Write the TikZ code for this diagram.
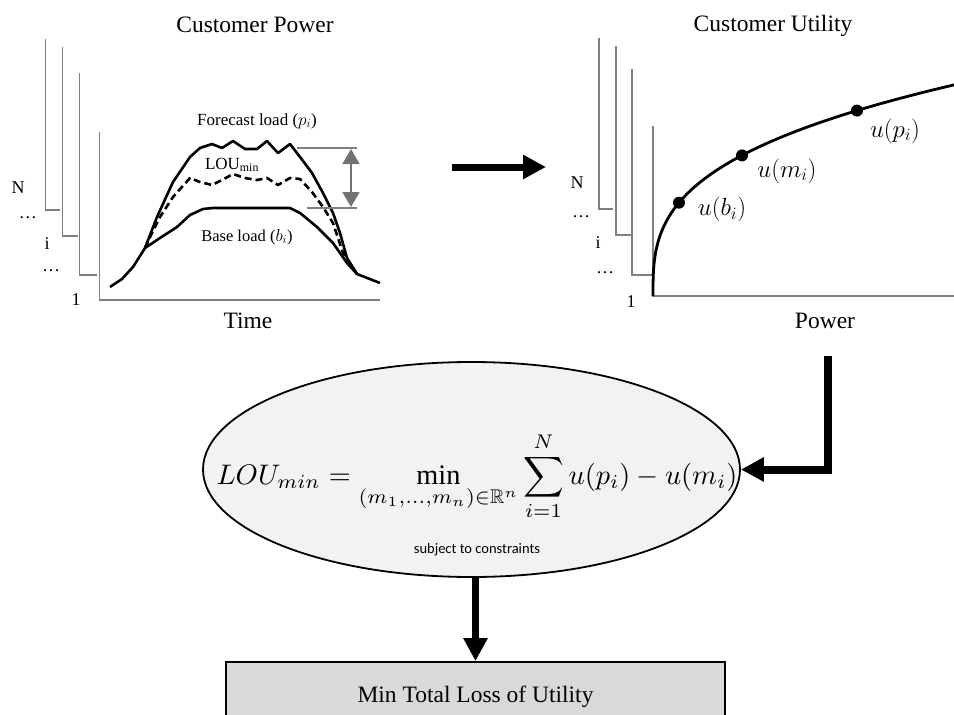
\documentclass[tikz,border=0pt]{standalone}
\usepackage{fontspec}
\setmainfont{Liberation Serif}
\newfontfamily\calibrifont{Carlito}
\usepackage{amssymb}
\usepackage{graphicx}
\usetikzlibrary{arrows.meta,shapes.geometric}
\definecolor{axisgray}{HTML}{808080}
\definecolor{ellfill}{HTML}{F2F2F2}
\definecolor{boxfill}{HTML}{D9D9D9}
\definecolor{arrgray}{HTML}{767171}
\tikzset{
  axisline/.style={draw=axisgray, line width=1.2pt},
  loadcurve/.style={line width=2.6pt, line join=round},
  bigtxt/.style={font=\fontsize{23.5}{28}\selectfont, inner sep=0pt, anchor=base},
  idxtxt/.style={font=\fontsize{18}{22}\selectfont, inner sep=0pt, anchor=base},
  smalltxt/.style={font=\fontsize{17}{20}\selectfont, inner sep=0pt, anchor=base},
  utxt/.style={font=\fontsize{25.5}{30}\selectfont, inner sep=0pt},
  bigarrow/.style={line width=7pt, line join=miter, -{Triangle[length=23pt,width=23pt]}},
  measarrow/.style={draw=arrgray, line width=1.5pt, {Triangle[length=15pt,width=17pt,fill=arrgray]}-{Triangle[length=15pt,width=17pt,fill=arrgray]}},
  dot/.style={circle, fill=black, inner sep=0pt, minimum size=12pt}
}
\begin{document}
\begin{tikzpicture}[x=1pt,y=-1pt]
\clip (0,0) rectangle (954,715);
\fill[white] (0,0) rectangle (954,715);

% ---------- Left panel: Customer Power ----------
\node[bigtxt] (titleL) at (255,32) {Customer Power};
\draw[axisline] (45.7,39) -- (45.7,210) -- (60,210);
\draw[axisline] (62.3,47) -- (62.3,236) -- (78,236);
\draw[axisline] (79.3,73) -- (79.3,275) -- (97,275);
\draw[axisline] (99.3,132) -- (99.3,300) -- (380,300);
\node[idxtxt] (lN) at (18,193) {N};
\node[idxtxt] (ld1) at (28,218) {\ldots};
\node[idxtxt] (li) at (47,249) {i};
\node[idxtxt] (ld2) at (51,271) {\ldots};
\node[idxtxt] (l1) at (76,305) {1};
\node[bigtxt] (timeL) at (248,328) {Time};

\draw[loadcurve] (110,287) -- (122,279) -- (133,267) -- (145,248) -- (157,217) -- (173,182) -- (190,157) -- (200,148) -- (212,144) -- (222,148) -- (233,141) -- (245,149) -- (257,149) -- (267,141) -- (278,153) -- (290,144) -- (300,157) -- (312,173) -- (323,193) -- (333,213) -- (340,233) -- (347,258) -- (357,274) -- (380,283);
\draw[loadcurve, dash pattern=on 7pt off 4pt] (145,248) -- (152,233) -- (160,217) -- (173,197) -- (190,178) -- (200,182) -- (212,185) -- (222,180) -- (233,174) -- (245,178) -- (257,180) -- (267,178) -- (278,185) -- (290,178) -- (300,179) -- (312,192) -- (323,207) -- (333,223) -- (343,253) -- (357,274);
\draw[loadcurve] (145,248) -- (160,238) -- (177,227) -- (190,215) -- (203,209) -- (213,208) -- (290,208) -- (300,213) -- (317,227) -- (333,243) -- (347,263) -- (357,274);

\draw[draw=axisgray, line width=1.2pt] (297,148) -- (357,148);
\draw[draw=axisgray, line width=1.2pt] (307,208) -- (357,208);
\coordinate (mTop) at (351,149);
\coordinate (mBot) at (351,207);
\draw[measarrow] (mTop) -- (mBot);

\node[smalltxt] (fcast) at (257,125) {Forecast load ($p_i$)};
\node[smalltxt] (lou) at (232,169) {LOU\textsubscript{min}};
\node[font=\fontsize{16.5}{20}\selectfont, inner sep=0pt, anchor=base] (base) at (247,241) {Base load ($b_i$)};

% ---------- Arrow between panels ----------
\coordinate (a1) at (452,167);
\coordinate (a2) at (546,167);
\draw[bigarrow] (a1) -- (a2);

% ---------- Right panel: Customer Utility ----------
\node[bigtxt] (titleR) at (773,31) {Customer Utility};
\draw[axisline] (599,38) -- (599,209) -- (613,209);
\draw[axisline] (616,46) -- (616,235) -- (632,235);
\draw[axisline] (632,69) -- (632,275) -- (652,275);
\draw[axisline] (653,126) -- (653,296) -- (954,296);
\node[idxtxt] (rN) at (577,188) {N};
\node[idxtxt] (rd1) at (581,217) {\ldots};
\node[idxtxt] (ri) at (598,248) {i};
\node[idxtxt] (rd2) at (605,273) {\ldots};
\node[idxtxt] (r1) at (631,307) {1};
\node[bigtxt] (powerR) at (825,328) {Power};

\draw[line width=2.8pt] plot[domain=0:6.75, samples=120, smooth] ({653+\x*\x*\x},{296-31.5*\x});
\node[dot] (db) at (679,202.7) {};
\node[dot] (dm) at (742,155.4) {};
\node[dot] (dp) at (857,110.6) {};
\node[utxt] (ub) at (722,209.5) {$u(b_i)$};
\node[utxt] (um) at (787,171) {$u(m_i)$};
\node[utxt] (up) at (895,131) {$u(p_i)$};

% ---------- Ellipse ----------
\node[ellipse, draw, line width=1.8pt, fill=ellfill, minimum width=537pt, minimum height=215pt, inner sep=0pt] (ell) at (471.5,469.5) {};
\node[anchor=base, inner sep=0pt] (formula) at (477,484) {\resizebox{521pt}{!}{$\displaystyle LOU_{min} = \min_{(m_1,\ldots,m_n)\in\mathbb{R}^n} \sum_{i=1}^{N} u(p_i) - u(m_i)$}};
\node[font=\calibrifont\fontsize{14.5}{17}\selectfont, inner sep=0pt] (subj) at (477,550) {subject to constraints};

\coordinate (uDown) at (828,356);
\draw[bigarrow, line width=8pt] (uDown) |- (ell.east);

% ---------- Result box ----------
\node[draw, line width=1.8pt, fill=boxfill, minimum width=499pt, minimum height=70pt, inner sep=0pt, font=\fontsize{23.5}{28}\selectfont] (box) at (475.5,697) {Min Total Loss of Utility};
\draw[bigarrow] (ell.south -| box.north) -- (box.north);
\end{tikzpicture}
\end{document}
